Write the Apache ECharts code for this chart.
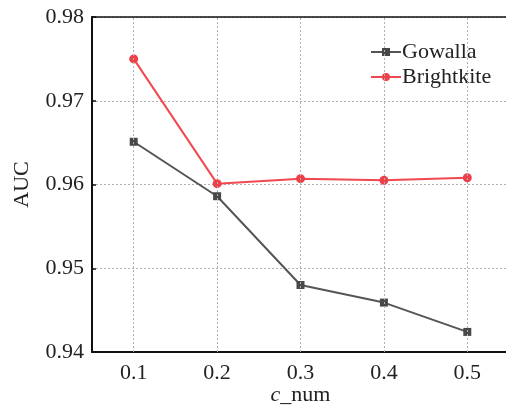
<!DOCTYPE html>
<html><head><meta charset="utf-8">
<script src="https://cdn.jsdelivr.net/npm/echarts@6/dist/echarts.min.js"></script>
<style>html,body{margin:0;padding:0;background:#fff}#c{width:506px;height:406px}</style>
</head><body><div id="c"></div>
<script>
const categories = ['0.1', '0.2', '0.3', '0.4', '0.5'];
const gowalla = [0.9651, 0.9586, 0.9480, 0.9459, 0.9424];
const brightkite = [0.9750, 0.9601, 0.9607, 0.9605, 0.9608];
const yMin = 0.94, yMax = 0.98, yStep = 0.01;
const FONT = 'Liberation Serif';

const chart = echarts.init(document.getElementById('c'), null, {renderer: 'canvas'});
chart.setOption({
  animation: false,
  textStyle: {fontFamily: FONT},
  grid: {left: 92, right: -3, top: 17, bottom: 54, containLabel: false, outerBoundsMode: 'none'},
  legend: {
    left: 365, top: 36, orient: 'vertical', itemWidth: 30, itemHeight: 10, itemGap: 3,
    textStyle: {fontFamily: FONT, fontSize: 22, color: '#222', padding: [0, 0, 0, -4]},
    data: ['Gowalla', 'Brightkite']
  },
  xAxis: [{
    type: 'category', data: categories, boundaryGap: true,
    name: '{i|c}{n|_num}', nameLocation: 'middle', nameGap: 32, nameMoveOverlap: false,
    nameTextStyle: {fontFamily: FONT, fontSize: 22, color: '#222',
      rich: {i: {fontFamily: FONT, fontStyle: 'italic', fontSize: 22, color: '#222'},
             n: {fontFamily: FONT, fontSize: 22, color: '#222'}}},
    axisLine: {lineStyle: {color: '#111', width: 2}},
    axisTick: {show: false},
    axisLabel: {fontFamily: FONT, fontSize: 22, color: '#222', margin: 10},
    splitLine: {show: false}
  }, {
    type: 'category', data: categories, position: 'top',
    axisLine: {show: true, onZero: false, lineStyle: {color: '#111', width: 1.5}},
    axisTick: {show: false}, axisLabel: {show: false}, splitLine: {show: false}
  }],
  yAxis: {
    type: 'value', min: yMin, max: yMax, interval: yStep,
    name: 'AUC', nameLocation: 'middle', nameGap: 59, nameMoveOverlap: false,
    nameTextStyle: {fontFamily: FONT, fontSize: 22, color: '#222'},
    axisLine: {show: true, lineStyle: {color: '#111', width: 2}},
    axisTick: {show: true, inside: true, length: 4, lineStyle: {color: '#111', width: 1.5}},
    axisLabel: {fontFamily: FONT, fontSize: 22, color: '#222', margin: 8,
      formatter: v => v.toFixed(2)},
    splitLine: {show: true, lineStyle: {color: '#b0b0b0', type: [2, 2], width: 1}}
  },
  series: [{
    name: '_grid', type: 'line', data: [], z: 1, silent: true,
    markLine: {
      symbol: 'none', silent: true, label: {show: false},
      lineStyle: {color: '#b0b0b0', type: [2, 2], width: 1},
      data: categories.map(c => ({xAxis: c}))
    }
  }, {
    name: 'Gowalla', type: 'line', data: gowalla, z: 3,
    symbol: 'rect', symbolSize: 8,
    itemStyle: {color: '#484848', borderWidth: 0},
    lineStyle: {color: '#555', width: 2}
  }, {
    name: 'Brightkite', type: 'line', data: brightkite, z: 4,
    symbol: 'circle', symbolSize: 9,
    itemStyle: {color: '#ee4049', borderWidth: 0},
    lineStyle: {color: '#f0484f', width: 2}
  }]
});
</script></body></html>
